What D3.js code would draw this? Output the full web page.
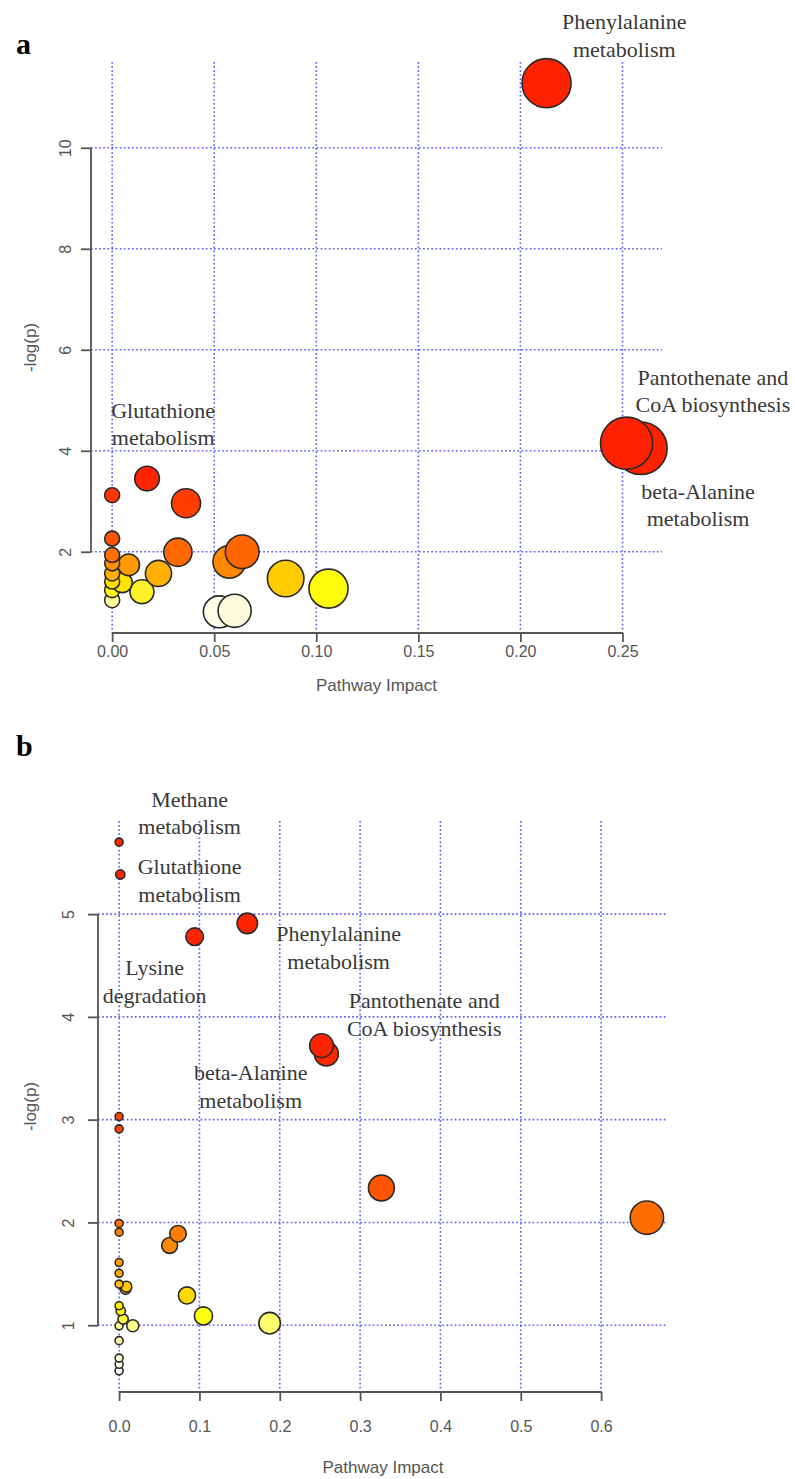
<!DOCTYPE html>
<html>
<head>
<meta charset="utf-8">
<script src="https://cdn.jsdelivr.net/npm/d3@7"></script>
<style>
  html, body { margin: 0; padding: 0; background: #fff; }
  svg { display: block; }
</style>
</head>
<body>
<svg id="chart" width="795" height="1479"></svg>
<script>
// ---------------- Panel a data ----------------
const impactA = [0.2128, 0.252, 0.259, 0.0171, 0, 0.0362, 0, 0.0637, 0.0322, 0, 0.0574, 0, 0.0081, 0.0227, 0, 0.085, 0, 0.0049, 0.106, 0, 0.0146, 0, 0.060, 0.0525];
const logpA   = [11.28, 4.15, 4.05, 3.45, 3.12, 2.96, 2.26, 2.0, 1.99, 1.935, 1.80, 1.77, 1.74, 1.57, 1.57, 1.47, 1.41, 1.39, 1.27, 1.24, 1.21, 1.04, 0.83, 0.81];
const xTicksA = [0, 0.05, 0.10, 0.15, 0.20, 0.25];
const yTicksA = [2, 4, 6, 8, 10];
const labelTextA = [["Phenylalanine", "metabolism"], ["Pantothenate and", "CoA biosynthesis"], ["beta-Alanine", "metabolism"], ["Glutathione", "metabolism"]];
const labelImpactA = [0.2509, 0.2943, 0.287, 0.025];
const labelLogpA   = [12.495, 5.46, 3.20, 4.806];

// ---------------- Panel b data ----------------
const impactB = [0, 0.0015, 0.1596, 0.094, 0.252, 0.258, 0, 0, 0.3265, 0.657, 0, 0, 0.0733, 0.0629, 0, 0, 0, 0.009, 0.008, 0.0845, 0, 0.002, 0.105, 0.005, 0.1874, 0, 0.017, 0, 0, 0, 0];
const logpB   = [5.70, 5.385, 4.91, 4.78, 3.72, 3.64, 3.03, 2.91, 2.335, 2.046, 1.99, 1.905, 1.89, 1.776, 1.61, 1.505, 1.40, 1.375, 1.353, 1.29, 1.19, 1.14, 1.09, 1.06, 1.02, 0.995, 0.995, 0.85, 0.68, 0.62, 0.556];
const xTicksB = [0, 0.1, 0.2, 0.3, 0.4, 0.5, 0.6];
const yTicksB = [1, 2, 3, 4, 5];
const labelTextB = [["Methane", "metabolism"], ["Glutathione", "metabolism"], ["Phenylalanine", "metabolism"], ["Lysine", "degradation"], ["Pantothenate and", "CoA biosynthesis"], ["beta-Alanine", "metabolism"]];
const labelImpactB = [0.0878, 0.0878, 0.2733, 0.0442, 0.3798, 0.1638];
const labelLogpB   = [6.117, 5.463, 4.81, 4.478, 4.159, 3.454];

const svg = d3.select("#chart");
svg.append("rect").attr("width", 795).attr("height", 1479).attr("fill", "#fff");

function ext(vals) {
  const [a, b] = d3.extent(vals);
  const d = (b - a) * 0.04;
  return [a - d, b + d];
}

function panel(cfg) {
  const g = svg.append("g");
  const x = d3.scaleLinear().domain(ext(cfg.impact)).range([cfg.box.left, cfg.box.right]);
  const y = d3.scaleLinear().domain(ext(cfg.logp)).range([cfg.box.bottom, cfg.box.top]);
  const r = d3.scaleSqrt().domain([0, d3.max(cfg.impact)]).range(cfg.rRange);
  const col = d3.scaleLinear().domain(cfg.colDomain).range(cfg.colRange).interpolate(d3.interpolateRgb).clamp(true);

  // grid
  const grid = g.append("g").attr("stroke", "#5f5ff8").attr("stroke-width", 1.6).attr("stroke-dasharray", "1.7,2.4");
  grid.selectAll("line.v").data(cfg.xTicks).join("line")
    .attr("x1", d => x(d)).attr("x2", d => x(d))
    .attr("y1", cfg.box.top).attr("y2", cfg.box.bottom);
  grid.selectAll("line.h").data(cfg.yTicks).join("line")
    .attr("y1", d => y(d)).attr("y2", d => y(d))
    .attr("x1", cfg.box.left).attr("x2", cfg.box.right);

  // x axis
  const xAxis = d3.axisBottom(x).tickValues(cfg.xTicks).tickFormat(d3.format(cfg.xFmt)).tickSize(9).tickPadding(0);
  const gx = g.append("g").attr("transform", `translate(0,${cfg.box.bottom})`).call(xAxis);
  gx.select(".domain").attr("d", `M${x(cfg.xTicks[0])},0H${x(cfg.xTicks[cfg.xTicks.length - 1])}`);
  gx.selectAll("path, line").attr("stroke", "#555").attr("stroke-width", 1.8);
  gx.selectAll("text").attr("y", cfg.xLabelDy).attr("dy", null)
    .attr("font-family", "Liberation Sans, Arial, sans-serif").attr("font-size", cfg.tickFont).attr("fill", "#555");

  // y axis
  const yAxis = d3.axisLeft(y).tickValues(cfg.yTicks).tickFormat(d3.format("d")).tickSize(10).tickPadding(0);
  const gy = g.append("g").attr("transform", `translate(${cfg.box.left},0)`).call(yAxis);
  gy.select(".domain").attr("d", `M0,${y(cfg.yTicks[0])}V${y(cfg.yTicks[cfg.yTicks.length - 1])}`);
  gy.selectAll("path, line").attr("stroke", "#555").attr("stroke-width", 1.8);
  gy.selectAll("text")
    .attr("x", null).attr("dy", null)
    .attr("transform", `translate(${cfg.yLabelX},0) rotate(-90)`)
    .attr("y", 0)
    .attr("text-anchor", "middle")
    .attr("dominant-baseline", "central")
    .attr("font-family", "Liberation Sans, Arial, sans-serif").attr("font-size", cfg.tickFont).attr("fill", "#555");

  // axis titles
  g.append("text").attr("x", (cfg.box.left + cfg.box.right) / 2).attr("y", cfg.xTitleY)
    .attr("text-anchor", "middle").attr("dominant-baseline", "central")
    .attr("font-family", "Liberation Sans, Arial, sans-serif").attr("font-size", cfg.titleFont).attr("fill", "#555")
    .text("Pathway Impact");
  g.append("text")
    .attr("transform", `translate(${cfg.yTitleX},${(cfg.box.top + cfg.box.bottom) / 2}) rotate(-90)`)
    .attr("text-anchor", "middle").attr("dominant-baseline", "central")
    .attr("font-family", "Liberation Sans, Arial, sans-serif").attr("font-size", cfg.titleFont).attr("fill", "#555")
    .text("-log(p)");

  // bubbles
  const pts = cfg.impact.map((v, i) => ({ ix: v, lp: cfg.logp[i] }));
  g.append("g").selectAll("circle").data(pts.slice().reverse()).join("circle")
    .attr("cx", d => x(d.ix)).attr("cy", d => y(d.lp)).attr("r", d => r(d.ix))
    .attr("fill", d => col(d.lp)).attr("stroke", "#2a2a2a").attr("stroke-width", 1.6);

  // pathway labels
  const lab = g.append("g").attr("font-family", "Liberation Serif, Times New Roman, serif")
    .attr("font-size", 22).attr("fill", "#383838").attr("text-anchor", "middle");
  cfg.labelText.forEach((lines, i) => {
    const cx = x(cfg.labelImpact[i]);
    const cy = y(cfg.labelLogp[i]);
    const t = lab.append("text");
    lines.forEach((s, j) => {
      t.append("tspan").attr("x", cx).attr("y", cy + j * 27.6).attr("dominant-baseline", "central").text(s);
    });
  });

  // panel letter
  svg.append("text").attr("x", cfg.letterPos[0]).attr("y", cfg.letterPos[1])
    .attr("font-family", "Liberation Serif, Times New Roman, serif").attr("font-weight", "bold")
    .attr("font-size", 30).attr("fill", "#000").text(cfg.letter);
}

panel({
  impact: impactA, logp: logpA, xTicks: xTicksA, yTicks: yTicksA, xFmt: ".2f",
  box: { left: 91, right: 662, top: 62, bottom: 633 },
  rRange: [7.5, 26.3],
  colDomain: [0.8, 0.85, 1.04, 1.22, 1.3, 1.47, 1.57, 1.74, 1.8, 2.0, 2.3, 3.0, 3.5],
  colRange: ["#fffff2", "#fff6cc", "#ffff9c", "#fff020", "#ffff00", "#ffcc00", "#ffb000", "#ff9a00", "#ff8800", "#ff6600", "#ff5000", "#ff3c00", "#ff2200"],
  labelText: labelTextA, labelImpact: labelImpactA, labelLogp: labelLogpA,
  xLabelDy: 24, tickFont: 16, titleFont: 17, xTitleY: 685, yLabelX: -26, yTitleX: 30,
  letter: "a", letterPos: [16, 54]
});

panel({
  impact: impactB, logp: logpB, xTicks: xTicksB, yTicks: yTicksB, xFmt: ".1f",
  box: { left: 98, right: 668, top: 821, bottom: 1392 },
  rRange: [4, 16.7],
  colDomain: [0.556, 0.7, 0.86, 1.0, 1.09, 1.19, 1.35, 1.5, 1.61, 1.8, 2.0, 2.33, 3.0, 3.7],
  colRange: ["#ffffff", "#ffffcc", "#ffffb0", "#ffff88", "#ffff10", "#ffee00", "#ffcc00", "#ffaa00", "#ff9900", "#ff8800", "#ff7000", "#ff5500", "#ff4400", "#ff2400"],
  labelText: labelTextB, labelImpact: labelImpactB, labelLogp: labelLogpB,
  xLabelDy: 40, tickFont: 16, titleFont: 17, xTitleY: 1467, yLabelX: -30, yTitleX: 30,
  letter: "b", letterPos: [16, 756]
});
</script>
</body>
</html>
